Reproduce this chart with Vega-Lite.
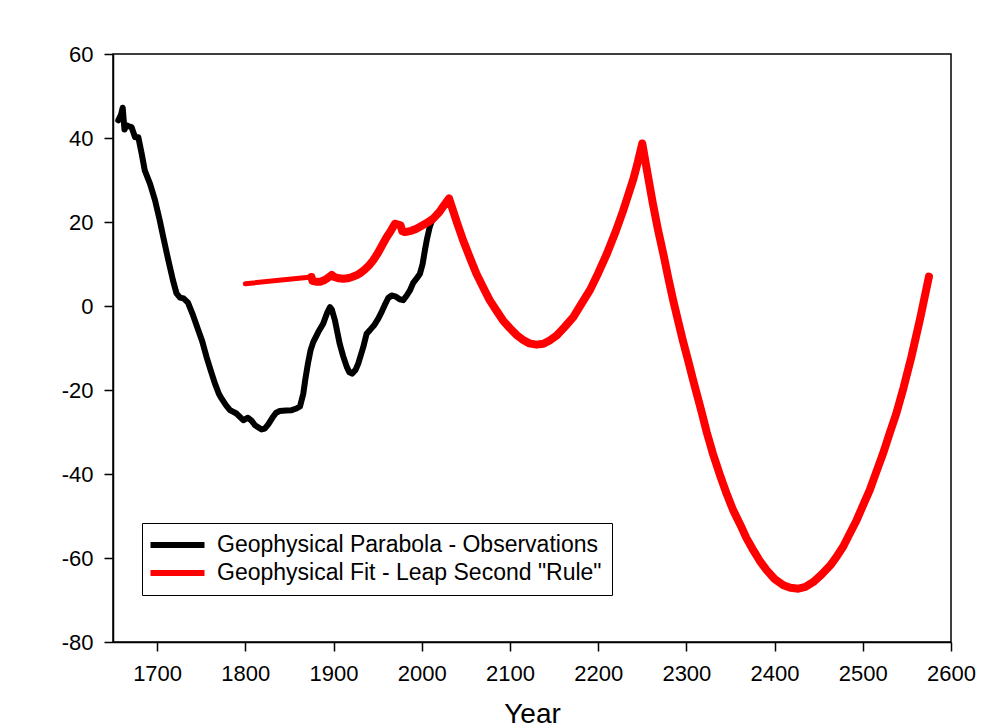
{
  "$schema": "https://vega.github.io/schema/vega-lite/v6.json",
  "width": 838,
  "height": 588,
  "autosize": {"type": "none"},
  "padding": {"left": 113, "top": 54, "right": 38, "bottom": 86},
  "background": "white",
  "config": {
    "view": {"stroke": "black", "strokeWidth": 1.5},
    "axis": {
      "labelFont": "Liberation Sans",
      "titleFont": "Liberation Sans",
      "labelColor": "black",
      "titleColor": "black",
      "domainColor": "black",
      "tickColor": "black",
      "domainWidth": 1.5,
      "tickWidth": 1.5,
      "tickSize": 9,
      "grid": false,
      "labelFontSize": 22,
      "labelFlush": false,
      "labelOverlap": false,
      "labelBound": false,
      "labelExpr": "'' + datum.value"
    },
    "legend": {
      "labelFont": "Liberation Sans",
      "labelColor": "black",
      "labelFontSize": 23,
      "strokeColor": "black",
      "fillColor": "white"
    }
  },
  "datasets": {
    "obs": [
      {"year": 1656, "v": 44.2}, {"year": 1659, "v": 45.5}, {"year": 1661, "v": 47.2}, {"year": 1663, "v": 42.0},
      {"year": 1665.5, "v": 43.0}, {"year": 1668, "v": 42.8}, {"year": 1671, "v": 42.6}, {"year": 1675, "v": 40.2},
      {"year": 1678.7, "v": 40.2}, {"year": 1682.5, "v": 36.3}, {"year": 1686, "v": 32.3}, {"year": 1692, "v": 29.1},
      {"year": 1697.6, "v": 25.2}, {"year": 1703, "v": 20.4}, {"year": 1707, "v": 16.4}, {"year": 1712.7, "v": 10.9},
      {"year": 1718, "v": 6.1}, {"year": 1722, "v": 3.0}, {"year": 1726, "v": 2.0}, {"year": 1730, "v": 1.8},
      {"year": 1735, "v": 0.8}, {"year": 1740, "v": -1.8}, {"year": 1746.7, "v": -5.8}, {"year": 1751, "v": -8.3},
      {"year": 1756, "v": -12.1}, {"year": 1761, "v": -15.5}, {"year": 1765.6, "v": -18.5}, {"year": 1770, "v": -20.9},
      {"year": 1773, "v": -22.0}, {"year": 1778, "v": -23.6}, {"year": 1782.6, "v": -24.8}, {"year": 1790, "v": -25.6},
      {"year": 1797.7, "v": -27.2}, {"year": 1803, "v": -26.6}, {"year": 1807, "v": -27.3}, {"year": 1811, "v": -28.4},
      {"year": 1818.5, "v": -29.4}, {"year": 1822, "v": -29.2}, {"year": 1826, "v": -28.2}, {"year": 1831.7, "v": -26.3},
      {"year": 1835, "v": -25.4}, {"year": 1839, "v": -25.0}, {"year": 1846, "v": -24.9}, {"year": 1852.5, "v": -24.8},
      {"year": 1858, "v": -24.4}, {"year": 1862, "v": -23.9}, {"year": 1865.7, "v": -20.9}, {"year": 1868, "v": -17.5},
      {"year": 1871, "v": -13.7}, {"year": 1874, "v": -10.5}, {"year": 1877, "v": -8.6}, {"year": 1882.7, "v": -6.2},
      {"year": 1888.3, "v": -4.2}, {"year": 1893, "v": -1.5}, {"year": 1896, "v": -0.3}, {"year": 1898, "v": -0.8},
      {"year": 1901.6, "v": -3.4}, {"year": 1907, "v": -9.0}, {"year": 1911, "v": -12.0}, {"year": 1915, "v": -14.5},
      {"year": 1918, "v": -15.8}, {"year": 1921, "v": -16.1}, {"year": 1925, "v": -15.2}, {"year": 1928, "v": -13.7},
      {"year": 1933.7, "v": -9.8}, {"year": 1937.5, "v": -6.6}, {"year": 1941, "v": -5.8}, {"year": 1946, "v": -4.6},
      {"year": 1950.7, "v": -3.0}, {"year": 1955, "v": -1.2}, {"year": 1958, "v": 0.2}, {"year": 1962, "v": 1.9},
      {"year": 1965.8, "v": 2.5}, {"year": 1970, "v": 2.3}, {"year": 1975, "v": 1.6}, {"year": 1979, "v": 1.4},
      {"year": 1983, "v": 2.5}, {"year": 1986.6, "v": 3.7}, {"year": 1990.3, "v": 5.5}, {"year": 1994, "v": 6.5},
      {"year": 1998, "v": 7.7}, {"year": 2001, "v": 10.0}, {"year": 2003.6, "v": 13.3}, {"year": 2006, "v": 16.0},
      {"year": 2009, "v": 18.8}, {"year": 2012, "v": 20.5}
    ],
    "fitEarly": [
      {"year": 1800, "v": 5.3}, {"year": 1875, "v": 6.9}
    ],
    "fit": [
      {"year": 1875, "v": 6.9}, {"year": 1876, "v": 6.0}, {"year": 1880, "v": 5.8}, {"year": 1885, "v": 5.8},
      {"year": 1890, "v": 6.2}, {"year": 1895, "v": 6.9}, {"year": 1898, "v": 7.4}, {"year": 1901, "v": 6.9},
      {"year": 1906, "v": 6.6}, {"year": 1911, "v": 6.5}, {"year": 1916, "v": 6.6}, {"year": 1921, "v": 6.9},
      {"year": 1926, "v": 7.3}, {"year": 1930, "v": 7.8}, {"year": 1935, "v": 8.6}, {"year": 1940, "v": 9.6},
      {"year": 1945, "v": 10.9}, {"year": 1950, "v": 12.5}, {"year": 1955, "v": 14.4}, {"year": 1960, "v": 16.3},
      {"year": 1965, "v": 17.9}, {"year": 1969.6, "v": 19.6}, {"year": 1973, "v": 19.4}, {"year": 1976, "v": 19.2},
      {"year": 1978, "v": 17.8}, {"year": 1981, "v": 17.6}, {"year": 1988, "v": 17.9}, {"year": 1994, "v": 18.4},
      {"year": 2000, "v": 19.1}, {"year": 2006, "v": 19.8}, {"year": 2013, "v": 20.8}, {"year": 2020, "v": 22.4},
      {"year": 2025, "v": 23.9}, {"year": 2031, "v": 25.6}, {"year": 2040, "v": 19.8}, {"year": 2047, "v": 15.6},
      {"year": 2055, "v": 11.3}, {"year": 2062, "v": 7.7}, {"year": 2070, "v": 4.3}, {"year": 2077, "v": 1.4},
      {"year": 2085, "v": -1.2}, {"year": 2092, "v": -3.4}, {"year": 2100, "v": -5.3}, {"year": 2108, "v": -7.0},
      {"year": 2115, "v": -8.1}, {"year": 2122, "v": -8.9}, {"year": 2130, "v": -9.2}, {"year": 2138, "v": -9.0},
      {"year": 2145, "v": -8.2}, {"year": 2153, "v": -7.0}, {"year": 2162, "v": -5.0}, {"year": 2172, "v": -2.6},
      {"year": 2181, "v": 0.5}, {"year": 2191, "v": 3.9}, {"year": 2200, "v": 7.8}, {"year": 2210, "v": 12.5},
      {"year": 2220, "v": 17.8}, {"year": 2228, "v": 22.5}, {"year": 2235, "v": 27.0}, {"year": 2240, "v": 30.3},
      {"year": 2245, "v": 34.3}, {"year": 2250, "v": 38.7}, {"year": 2256, "v": 31.5}, {"year": 2262, "v": 24.4},
      {"year": 2268, "v": 18.0}, {"year": 2274, "v": 12.3}, {"year": 2280, "v": 6.2}, {"year": 2285, "v": 1.4},
      {"year": 2290, "v": -3.0}, {"year": 2296, "v": -8.2}, {"year": 2302, "v": -13.0}, {"year": 2308, "v": -17.9},
      {"year": 2317, "v": -25.0}, {"year": 2323, "v": -30.0}, {"year": 2330, "v": -35.1}, {"year": 2338, "v": -40.2},
      {"year": 2346, "v": -44.9}, {"year": 2353, "v": -48.6}, {"year": 2361, "v": -52.0}, {"year": 2368, "v": -55.2},
      {"year": 2376, "v": -58.2}, {"year": 2383, "v": -60.6}, {"year": 2391, "v": -62.9}, {"year": 2400, "v": -65.0},
      {"year": 2410, "v": -66.5}, {"year": 2418, "v": -67.1}, {"year": 2427, "v": -67.3}, {"year": 2435, "v": -66.9},
      {"year": 2444, "v": -65.7}, {"year": 2453, "v": -64.0}, {"year": 2463, "v": -61.8}, {"year": 2470, "v": -59.8},
      {"year": 2478, "v": -57.2}, {"year": 2485, "v": -54.3}, {"year": 2493, "v": -51.0}, {"year": 2500, "v": -47.6},
      {"year": 2508, "v": -43.8}, {"year": 2515, "v": -39.7}, {"year": 2523, "v": -35.1}, {"year": 2530, "v": -30.6},
      {"year": 2538, "v": -25.6}, {"year": 2546, "v": -19.6}, {"year": 2555, "v": -12.2}, {"year": 2565, "v": -3.0},
      {"year": 2575, "v": 7.0}
    ]
  },
  "encoding": {
    "x": {
      "field": "year",
      "type": "quantitative",
      "scale": {"domain": [1650, 2600], "nice": false, "zero": false},
      "axis": {
        "values": [1700, 1800, 1900, 2000, 2100, 2200, 2300, 2400, 2500, 2600],
        "labelPadding": 12,
        "title": "Year",
        "titleFontSize": 28,
        "titleFontWeight": "normal",
        "titlePadding": 16
      }
    },
    "y": {
      "field": "v",
      "type": "quantitative",
      "scale": {"domain": [-80, 60], "nice": false, "zero": false},
      "axis": {
        "values": [-80, -60, -40, -20, 0, 20, 40, 60],
        "labelPadding": 11,
        "title": null
      }
    }
  },
  "layer": [
    {
      "data": {"name": "obs"},
      "mark": {"type": "line", "strokeWidth": 6, "strokeJoin": "round", "strokeCap": "round"},
      "encoding": {
        "color": {
          "datum": "Geophysical Parabola - Observations",
          "type": "nominal",
          "scale": {
            "domain": ["Geophysical Parabola - Observations", "Geophysical Fit - Leap Second \"Rule\""],
            "range": ["#000000", "#ff0000"]
          },
          "legend": {
            "title": null,
            "orient": "none",
            "legendX": 29,
            "legendY": 469,
            "symbolType": "M-1.5,0H4.5",
            "symbolSize": 324,
            "symbolStrokeWidth": 6,
            "labelOffset": 41,
            "padding": 10,
            "rowPadding": 4,
            "labelLimit": 0
          }
        }
      }
    },
    {
      "data": {"name": "fitEarly"},
      "mark": {"type": "line", "strokeWidth": 5, "color": "#ff0000", "strokeCap": "round"},
      "encoding": {}
    },
    {
      "data": {"name": "fit"},
      "mark": {"type": "line", "strokeWidth": 8, "strokeJoin": "round", "strokeCap": "round"},
      "encoding": {
        "color": {
          "datum": "Geophysical Fit - Leap Second \"Rule\"",
          "type": "nominal",
          "scale": {
            "domain": ["Geophysical Parabola - Observations", "Geophysical Fit - Leap Second \"Rule\""],
            "range": ["#000000", "#ff0000"]
          }
        }
      }
    }
  ]
}
